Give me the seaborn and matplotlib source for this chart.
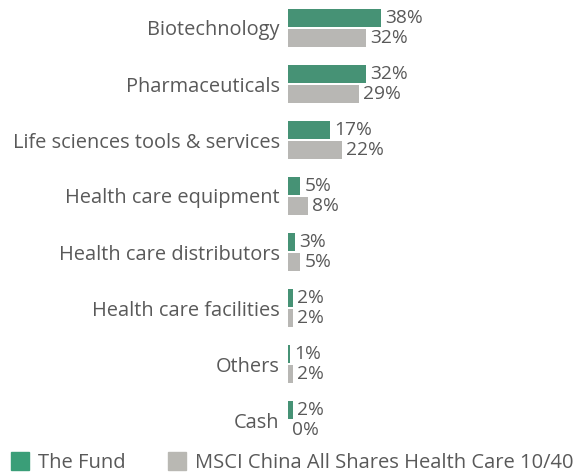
import pandas as pd
import seaborn as sns
from matplotlib import pyplot as plt
from matplotlib.patches import Patch

categories = ['Biotechnology', 'Pharmaceuticals', 'Life sciences tools & services',
              'Health care equipment', 'Health care distributors', 'Health care facilities',
              'Others', 'Cash']
fund = [38, 32, 17, 5, 3, 2, 1, 2]
index = [32, 29, 22, 8, 5, 2, 2, 0]
series = ['The Fund', 'MSCI China All Shares Health Care 10/40']

GREEN = '#3a9e78'
GREY = '#b9b8b3'
TEXT = '#595959'

df = pd.DataFrame({
    'category': categories * 2,
    'value': fund + index,
    'series': [series[0]] * len(categories) + [series[1]] * len(categories),
})

sns.set_style('white')
plt.rcParams['font.family'] = ['Open Sans', 'DejaVu Sans']

fig = plt.figure(figsize=(5.82, 4.75), dpi=100)
ax = fig.add_axes([288 / 582, 27 / 475, 1 - 288 / 582, 448 / 475])

sns.barplot(data=df, y='category', x='value', hue='series', orient='h',
            palette=[GREEN, GREY], width=0.7, gap=0.1, legend=False,
            linewidth=0, ax=ax)

for cont in ax.containers:
    ax.bar_label(cont, labels=[f'{v:.0f}%' for v in cont.datavalues],
                 padding=3, fontsize=13.8, color=TEXT)

ax.set_xlim(0, 120)
ax.set_ylim(7.5, -0.5)
ax.set_xlabel('')
ax.set_ylabel('')
ax.set_xticks([])
ax.tick_params(axis='y', length=0, pad=6, labelsize=14.4, labelcolor=TEXT)
sns.despine(ax=ax, left=True, bottom=True)

handles = [Patch(color=GREEN), Patch(color=GREY)]
fig.legend(handles, series, loc='center left', bbox_to_anchor=(11 / 582, 12.5 / 475), ncol=2,
           frameon=False, fontsize=14.5, labelcolor=TEXT, handlelength=0.9,
           handleheight=0.95, handletextpad=0.45, columnspacing=2.1, borderpad=0,
           borderaxespad=0)

fig.savefig('out.png', dpi=100)
